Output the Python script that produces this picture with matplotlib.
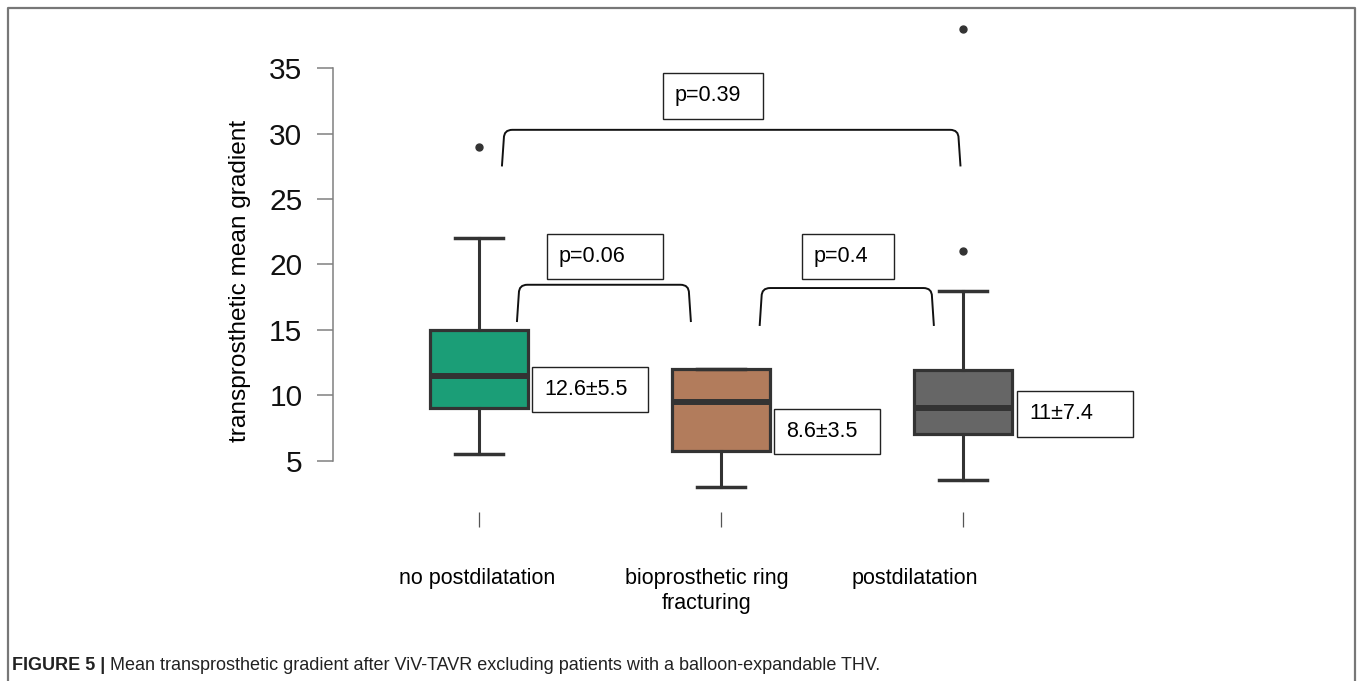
"""
Boxplot of mean transprosthetic gradient by group (ViV-TAVR).
"""

import matplotlib
matplotlib.use('Agg')
import matplotlib.pyplot as plt
from matplotlib.path import Path
from matplotlib.patches import PathPatch, Rectangle
from matplotlib.lines import Line2D

# ---- data ----
groups = ['no postdilatation', 'bioprosthetic ring\nfracturing', 'postdilatation']
medians = [11.5, 9.5, 9.0]
q1s = [9.0, 5.75, 7.0]
q3s = [15.0, 12.0, 11.9]
whis_lo = [5.5, 3.0, 3.5]
whis_hi = [22.0, 12.0, 18.0]
outliers = [[29.0], [], [21.0, 38.0]]
colors = ['#1b9e77', '#b27c5c', '#666666']
summaries = ['12.6±5.5', '8.6±3.5', '11±7.4']
p_labels = ['p=0.39', 'p=0.06', 'p=0.4']

W, H = 1360, 681
plt.rcParams['font.family'] = ['Liberation Sans', 'DejaVu Sans']

fig = plt.figure(figsize=(W / 100, H / 100), dpi=100)
# axes placed in pixel terms: left 333, right 1150, top 20, bottom 512
ax = fig.add_axes([333 / W, (H - 512) / H, (1150 - 333) / W, (512 - 20) / H])
ax.set_xlim(0.397, 3.773)
ax.set_ylim(1.07, 38.7)

stats = []
for i in range(3):
    stats.append(dict(med=medians[i], q1=q1s[i], q3=q3s[i],
                      whislo=whis_lo[i], whishi=whis_hi[i], fliers=outliers[i]))
edge = '#333333'
bp = ax.bxp(stats, positions=[1, 2, 3], widths=0.405, patch_artist=True,
            boxprops=dict(edgecolor=edge, linewidth=2.3),
            medianprops=dict(color=edge, linewidth=4.3, solid_capstyle='butt'),
            whiskerprops=dict(color=edge, linewidth=2.2),
            capprops=dict(color=edge, linewidth=2.5),
            flierprops=dict(marker='o', markerfacecolor=edge, markeredgecolor=edge,
                            markersize=5),
            capwidths=0.195)
for patch, c in zip(bp['boxes'], colors):
    patch.set_facecolor(c)
for fl in bp['fliers']:
    fl.set_clip_on(False)

# axis styling like base R
for s in ['top', 'right', 'bottom']:
    ax.spines[s].set_visible(False)
ax.spines['left'].set_bounds(5, 35)
ax.spines['left'].set_color('#808080')
ax.spines['left'].set_linewidth(1.1)
ax.set_yticks([5, 10, 15, 20, 25, 30, 35])
ax.tick_params(axis='y', length=11.5, width=1.1, color='#808080', pad=10.5,
               labelsize=21.5, labelcolor='#111111')
ax.set_xticks([1, 2, 3])
ax.set_xticklabels(['', '', ''])
ax.tick_params(axis='x', length=10.8, width=0.9, color='#555555')

ax.text((240 - 333) / (1150 - 333), 0.4695, 'transprosthetic mean gradient',
        rotation=90, ha='center', va='center', fontsize=17.6, transform=ax.transAxes)

# category labels (placed by hand as in the original)
label_x = [0.993, 1.94, 2.80]
for x, g in zip(label_x, groups):
    ax.text(x, -0.1138, g, ha='center', va='top', fontsize=15.5,
            linespacing=1.25, transform=ax.get_xaxis_transform(), clip_on=False)

# summary boxes: (left, bottom, right, top) in data units
summary_boxes = [(1.219, 8.72, 1.698, 12.17), (2.219, 5.51, 2.657, 8.95),
                 (3.223, 6.81, 3.702, 10.33)]
for (x0, y0, x1, y1), txt in zip(summary_boxes, summaries):
    ax.add_patch(Rectangle((x0, y0), x1 - x0, y1 - y0, facecolor='white',
                           edgecolor='#222222', linewidth=1.0, clip_on=False))
    ax.text(x0 + 12 / 242, (y0 + y1) / 2, txt, ha='left', va='center',
            fontsize=15.5, clip_on=False)

p_boxes = [(1.760, 31.14, 2.174, 34.66), (1.281, 18.90, 1.760, 22.34),
           (2.335, 18.90, 2.715, 22.34)]
for (x0, y0, x1, y1), txt in zip(p_boxes, p_labels):
    ax.add_patch(Rectangle((x0, y0), x1 - x0, y1 - y0, facecolor='white',
                           edgecolor='#222222', linewidth=1.0, clip_on=False))
    ax.text(x0 + 12 / 242, (y0 + y1) / 2, txt, ha='left', va='center',
            fontsize=15.5, clip_on=False)

# brackets: (x_left, x_right, y_top, y_bottom)
brackets = [(1.095, 2.990, 30.3, 27.5), (1.157, 1.876, 18.45, 15.6),
            (2.160, 2.880, 18.2, 15.3)]
rx, ry, lean = 0.035, 0.65, 0.008
for x0, x1, yt, yb in brackets:
    verts = [(x0, yb), (x0 + lean, yt - ry), (x0 + lean, yt), (x0 + lean + rx, yt),
             (x1 - lean - rx, yt), (x1 - lean, yt), (x1 - lean, yt - ry), (x1, yb)]
    codes = [Path.MOVETO, Path.LINETO, Path.CURVE3, Path.CURVE3,
             Path.LINETO, Path.CURVE3, Path.CURVE3, Path.LINETO]
    ax.add_patch(PathPatch(Path(verts, codes), facecolor='none', edgecolor='#111111',
                           linewidth=1.4, clip_on=False))

# page frame (open at the bottom)
fx = [8 / W, 8 / W, 1355 / W, 1355 / W]
fy = [0, 1 - 8 / H, 1 - 8 / H, 0]
fig.add_artist(Line2D(fx, fy, color='#777777', linewidth=1.6, transform=fig.transFigure))

# caption
cap1 = fig.text(12 / W, 16 / H, 'FIGURE 5 |', fontsize=13, fontweight='bold',
                ha='left', va='center', color='#222222')
ann = plt.annotate(' Mean transprosthetic gradient after ViV-TAVR excluding patients with a '
                   'balloon-expandable THV.', xy=(1, 0), xycoords=cap1,
                   ha='left', va='bottom', fontsize=13, color='#222222',
                   annotation_clip=False)

fig.savefig('out.png', dpi=100)
